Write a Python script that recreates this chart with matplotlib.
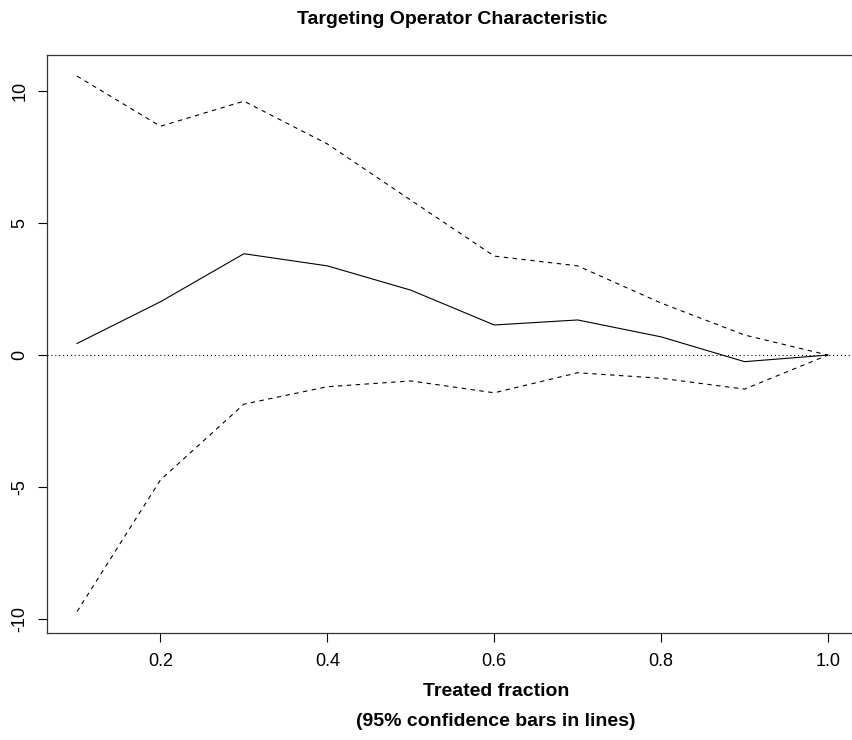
import matplotlib
matplotlib.use("Agg")
import numpy as np
import matplotlib.pyplot as plt

plt.rcParams["font.family"] = ["Liberation Sans", "DejaVu Sans"]

# data
fraction = [0.1, 0.2, 0.3, 0.4, 0.5, 0.6, 0.7, 0.8, 0.9, 1.0]
toc = [0.44, 2.02, 3.84, 3.38, 2.46, 1.14, 1.33, 0.69, -0.25, 0.0]
upper = [10.57, 8.67, 9.62, 8.0, 5.87, 3.75, 3.38, 1.97, 0.76, 0.0]
lower = [-9.72, -4.73, -1.86, -1.2, -0.98, -1.43, -0.67, -0.88, -1.29, 0.0]

xticks = [0.2, 0.4, 0.6, 0.8, 1.0]
yticks = [-10, -5, 0, 5, 10]

fig = plt.figure(figsize=(8.53, 7.4), dpi=100)
ax = fig.add_axes([47 / 853, 1 - 633 / 740, (858 - 47) / 853, (633 - 54.7) / 740])

ax.plot(fraction, toc, color="black", lw=0.8)
ax.plot(fraction, upper, color="black", lw=0.8, dashes=(4, 4))
ax.plot(fraction, lower, color="black", lw=0.8, dashes=(4, 4))
ax.axhline(0, color="black", lw=0.8, dashes=(1, 2.5))

# R-style 4% padding
xr = max(fraction) - min(fraction)
ax.set_xlim(min(fraction) - 0.04 * xr, max(fraction) + 0.04 * xr)
ymin, ymax = min(lower), max(upper)
yr = ymax - ymin
ax.set_ylim(ymin - 0.04 * yr, ymax + 0.04 * yr)

ax.set_xticks(xticks)
ax.set_xticklabels(["0.2", "0.4", "0.6", "0.8", "1.0"])
ax.set_yticks(yticks)
ax.set_yticklabels([str(v) for v in yticks], rotation=90, va="center")
ax.tick_params(direction="out", length=6.5, width=0.8, labelsize=13, pad=8, colors="black")
ax.tick_params(axis="y", pad=7)
for s in ax.spines.values():
    s.set_linewidth(0.9)
    s.set_color("#333333")

fig.text(452 / 853, 1 - 19 / 740, "Targeting Operator Characteristic",
         ha="center", va="center", fontsize=14, fontweight="bold")
fig.text(496 / 853, 1 - 692 / 740, "Treated fraction",
         ha="center", va="center", fontsize=14, fontweight="bold")
fig.text(496 / 853, 1 - 721 / 740, "(95% confidence bars in lines)",
         ha="center", va="center", fontsize=14, fontweight="bold")

fig.savefig("out.png", dpi=100)
